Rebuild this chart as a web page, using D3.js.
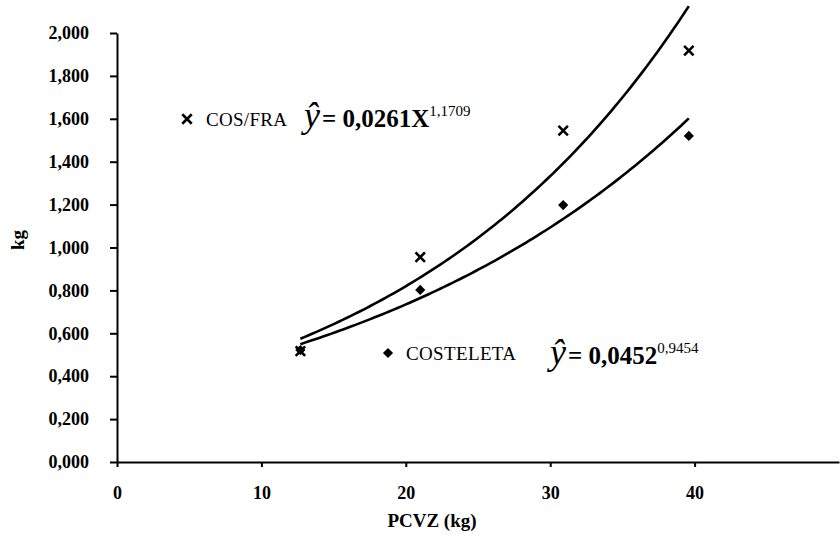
<!DOCTYPE html>
<html>
<head>
<meta charset="utf-8">
<script src="https://cdn.jsdelivr.net/npm/d3@7"></script>
<style>
  body { margin: 0; background: #fff; }
  svg { display: block; font-family: "Liberation Serif", "Times New Roman", serif; }
  .axis path, .axis line { stroke: #000; stroke-width: 2; }
  .axis text { font-family: "Liberation Serif", "Times New Roman", serif; font-size: 18px; font-weight: bold; fill: #000; }
</style>
</head>
<body>
<svg id="chart" width="840" height="540"></svg>
<script>
// PCVZ (kg) against cut weight (kg), two series with exponential trend lines
var pcvz = [12.7, 21.0, 30.9, 39.6];
var cosFra = [0.517, 0.955, 1.545, 1.918];
var costeleta = [0.522, 0.802, 1.198, 1.520];
var xTicks = [0, 10, 20, 30, 40];
var yTicks = [0, 0.2, 0.4, 0.6, 0.8, 1.0, 1.2, 1.4, 1.6, 1.8, 2.0];

var svg = d3.select('#chart');

var x = d3.scaleLinear().domain([0, 50]).range([117, 839]);
var y = d3.scaleLinear().domain([0, 2]).range([462, 33]);

// comma as decimal separator
var locale = d3.formatLocale({ decimal: ',', thousands: '.', grouping: [3], currency: ['', ''] });
var fmt = locale.format('.3f');

svg.append('g')
    .attr('class', 'axis')
    .attr('transform', 'translate(0,462)')
    .call(d3.axisBottom(x).tickValues(xTicks).tickSize(5).tickSizeOuter(0).tickPadding(19));

svg.append('g')
    .attr('class', 'axis')
    .attr('transform', 'translate(117,0)')
    .call(d3.axisLeft(y).tickValues(yTicks).tickFormat(fmt).tickSize(7).tickSizeOuter(0).tickPadding(21));

// axis titles
svg.append('text')
    .attr('x', 432).attr('y', 527)
    .attr('text-anchor', 'middle')
    .style('font-size', '19px').style('font-weight', 'bold')
    .text('PCVZ (kg)');

svg.append('text')
    .attr('transform', 'translate(24,240) rotate(-90)')
    .attr('text-anchor', 'middle')
    .style('font-size', '19px').style('font-weight', 'bold')
    .text('kg');

// least squares exponential fit, y = a * e^(b x)
function expFit(xs, ys) {
    var ly = ys.map(Math.log);
    var mx = d3.mean(xs), my = d3.mean(ly);
    var sxy = d3.sum(xs, function(v, i) { return (v - mx) * (ly[i] - my); });
    var sxx = d3.sum(xs, function(v) { return (v - mx) * (v - mx); });
    var b = sxy / sxx;
    var a = Math.exp(my - b * mx);
    return function(v) { return a * Math.exp(b * v); };
}

var line = d3.line()
    .x(function(d) { return x(d[0]); })
    .y(function(d) { return y(d[1]); });

var xs = d3.range(0, 101).map(function(i) {
    return pcvz[0] + (pcvz[pcvz.length - 1] - pcvz[0]) * i / 100;
});

[cosFra, costeleta].forEach(function(series) {
    var f = expFit(pcvz, series);
    svg.append('path')
        .datum(xs.map(function(v) { return [v, f(v)]; }))
        .attr('d', line)
        .attr('fill', 'none')
        .attr('stroke', '#000')
        .attr('stroke-width', 2.6);
});

// markers
var timesType = d3.symbolTimes || d3.symbolX;
var crossPath = timesType ? d3.symbol(timesType, 60)() : 'M-4,-4L4,4M4,-4L-4,4';
var diamondPath = d3.symbol(d3.symbolSquare, 52)();

function drawCross(cx, cy) {
    svg.append('path')
        .attr('d', crossPath)
        .attr('transform', 'translate(' + cx + ',' + cy + ')')
        .attr('fill', 'none')
        .attr('stroke', '#000')
        .attr('stroke-width', 2.6);
}
function drawDiamond(cx, cy) {
    svg.append('path')
        .attr('d', diamondPath)
        .attr('transform', 'translate(' + cx + ',' + cy + ') rotate(45)')
        .attr('fill', '#000');
}

pcvz.forEach(function(v, i) {
    drawDiamond(x(v), y(costeleta[i]));
    drawCross(x(v), y(cosFra[i]));
});

// legend
drawCross(187, 119);
svg.append('text')
    .attr('x', 206).attr('y', 126)
    .style('font-size', '19px')
    .attr('textLength', 81)
    .text('COS/FRA');

drawDiamond(388, 353);
svg.append('text')
    .attr('x', 406).attr('y', 360)
    .style('font-size', '19px')
    .attr('textLength', 110)
    .text('COSTELETA');

// equations
function equation(x0, y0, main, sup) {
    var t = svg.append('text').attr('x', x0).attr('y', y0);
    t.append('tspan')
        .style('font-size', '36px').style('font-style', 'italic')
        .text('\u0177');
    t.append('tspan')
        .attr('dx', 2)
        .style('font-size', '25px').style('font-weight', 'bold')
        .text('= ' + main);
    t.append('tspan')
        .attr('dy', -11)
        .style('font-size', '15px')
        .text(sup);
}

equation(304, 127, '0,0261X', '1,1709');
equation(550, 364, '0,0452', '0,9454');
</script>
</body>
</html>
